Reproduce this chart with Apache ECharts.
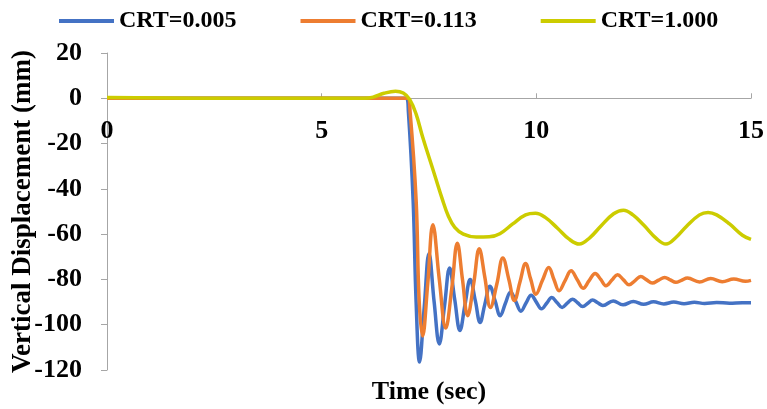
<!DOCTYPE html>
<html>
<head>
<meta charset="utf-8">
<script src="https://cdn.jsdelivr.net/npm/echarts@6/dist/echarts.min.js"></script>
<style>
  html, body { margin: 0; padding: 0; background: #fff; }
  #chart { width: 767px; height: 409px; }
</style>
</head>
<body>
<div id="chart"></div>
<script>
// Vertical displacement response (mm) against time (sec) for three CRT values.
const seriesNames = ['CRT=0.005', 'CRT=0.113', 'CRT=1.000'];
const seriesColors = ['#4472C4', '#ED7D31', '#CCCC00'];

// [time (sec), displacement (mm)]
const crt0005 = [
  [0, 0], [3, 0], [6, 0], [6.97, 0], [7.02, -6], [7.13, -45], [7.2, -90], [7.28, -116.5],
  [7.39, -92], [7.5, -68.5], [7.62, -90], [7.74, -108.5], [7.86, -92], [7.98, -75],
  [8.1, -89], [8.22, -102.5], [8.34, -91], [8.46, -80], [8.58, -89.5], [8.69, -99],
  [8.8, -91], [8.92, -83], [9.04, -89.5], [9.16, -96], [9.28, -90.5], [9.4, -85.5],
  [9.52, -89.7], [9.64, -94], [9.76, -90.4], [9.88, -87], [10.0, -90], [10.12, -93],
  [10.24, -90.5], [10.36, -88], [10.48, -90.2], [10.6, -92.4], [10.72, -90.5], [10.84, -88.7],
  [10.96, -90.3], [11.08, -92], [11.2, -90.5], [11.31, -89.1], [11.43, -90.3], [11.55, -91.5],
  [11.79, -89.5], [12.02, -91.2], [12.26, -89.7], [12.5, -91], [12.73, -89.9], [12.97, -90.8],
  [13.2, -90], [13.44, -90.7], [13.68, -90.1], [13.92, -90.6], [14.2, -90.2], [14.5, -90.5],
  [14.8, -90.3], [15, -90.3]
];

const crt0113 = [
  [0, 0], [3, 0], [6, 0], [7.0, 0], [7.06, -6], [7.2, -45], [7.27, -89], [7.35, -105],
  [7.47, -82], [7.59, -55.8], [7.74, -80], [7.89, -101.5], [8.03, -84], [8.16, -64],
  [8.28, -80], [8.4, -96], [8.54, -82], [8.67, -66.5], [8.8, -79], [8.93, -92.4],
  [9.08, -82], [9.22, -70.5], [9.36, -80], [9.49, -89.3], [9.62, -81], [9.75, -73],
  [9.87, -80], [9.99, -86.5], [10.14, -80.5], [10.29, -74.7], [10.41, -80], [10.53, -85],
  [10.67, -80.5], [10.81, -76.2], [10.95, -80], [11.09, -83.9], [11.23, -80.5], [11.37, -77.4],
  [11.5, -80], [11.62, -82.8], [11.76, -80.3], [11.89, -77.9], [12.03, -80.2], [12.16, -82.4],
  [12.3, -80.5], [12.43, -78.7], [12.57, -80.2], [12.7, -81.6], [12.85, -80.3], [12.99, -79.1],
  [13.12, -80.2], [13.25, -81.3], [13.38, -80.4], [13.52, -79.4], [13.8, -81.1], [14.06, -79.6],
  [14.33, -81], [14.6, -79.8], [14.87, -80.8], [15, -80.4]
];

const crt1000 = [
  [0, 0.3], [3, 0], [6.0, 0], [6.2, 0.5], [6.45, 2.2], [6.72, 3.1], [6.9, 2.3], [7.05, -0.5],
  [7.2, -7], [7.35, -17], [7.5, -26], [7.65, -35], [7.8, -44], [7.95, -52], [8.1, -57],
  [8.3, -60], [8.6, -61.3], [8.9, -61.2], [9.15, -59.8], [9.45, -55.5], [9.75, -51.5],
  [9.98, -50.8], [10.2, -52.5], [10.5, -57.5], [10.75, -62], [11.0, -64.4], [11.25, -61.5],
  [11.5, -56.5], [11.8, -51], [12.03, -49.4], [12.25, -51.5], [12.5, -56], [12.8, -62],
  [13.02, -64.4], [13.25, -61.5], [13.5, -56.5], [13.8, -51.5], [14.0, -50.4], [14.2, -51.5],
  [14.5, -55.5], [14.8, -60.5], [15, -62.3]
];

const seriesData = [crt0005, crt0113, crt1000];

const FONT = '"Liberation Serif", "Times New Roman", serif';
const AXIS_GRAY = '#A6A6A6';

// Plot area; the time axis sits on the zero line of the displacement axis.
const GRID = { left: 107, right: 16, top: 53, bottom: 39 };
const Y_MIN = -120, Y_MAX = 20;
const plotHeight = 409 - GRID.top - GRID.bottom;
const zeroOffset = -plotHeight * (0 - Y_MIN) / (Y_MAX - Y_MIN);

const chart = echarts.init(document.getElementById('chart'));
chart.setOption({
  animation: false,
  backgroundColor: '#ffffff',
  legend: {
    data: seriesNames,
    top: 4,
    left: 54,
    icon: 'rect',
    itemWidth: 55,
    itemHeight: 4,
    itemGap: 64,
    textStyle: { fontFamily: FONT, fontWeight: 'bold', fontSize: 24, color: '#000' }
  },
  grid: Object.assign({ outerBoundsMode: 'none', containLabel: false }, GRID),
  xAxis: {
    type: 'value',
    min: 0,
    max: 15,
    interval: 5,
    position: 'bottom',
    offset: zeroOffset,
    axisLine: { onZero: false, lineStyle: { color: AXIS_GRAY, width: 1 } },
    axisTick: { show: true, inside: true, length: 5, lineStyle: { color: AXIS_GRAY } },
    splitLine: { show: false },
    axisLabel: {
      margin: 20,
      fontFamily: FONT, fontWeight: 'bold', fontSize: 26, color: '#000'
    }
  },
  yAxis: {
    type: 'value',
    min: Y_MIN,
    max: Y_MAX,
    interval: 20,
    name: 'Vertical Displacement (mm)',
    nameLocation: 'middle',
    nameGap: 70,
    nameMoveOverlap: false,
    nameTextStyle: { fontFamily: FONT, fontWeight: 'bold', fontSize: 27, color: '#000' },
    axisLine: { show: true, lineStyle: { color: AXIS_GRAY, width: 1 } },
    axisTick: { show: true, inside: false, length: 6, lineStyle: { color: AXIS_GRAY } },
    splitLine: { show: false },
    axisLabel: {
      margin: 25,
      fontFamily: FONT, fontWeight: 'bold', fontSize: 26, color: '#000'
    }
  },
  graphic: [{
    type: 'text',
    x: 429,
    y: 392,
    style: {
      text: 'Time (sec)',
      font: 'bold 26px ' + FONT,
      fill: '#000',
      textAlign: 'center',
      textVerticalAlign: 'middle'
    }
  }],
  series: seriesNames.map((name, i) => ({
    name: name,
    type: 'line',
    data: seriesData[i],
    symbol: 'none',
    smooth: 0.4,
    color: seriesColors[i],
    lineStyle: { width: 3.5, color: seriesColors[i] },
    z: 2 + i
  }))
});
</script>
</body>
</html>
